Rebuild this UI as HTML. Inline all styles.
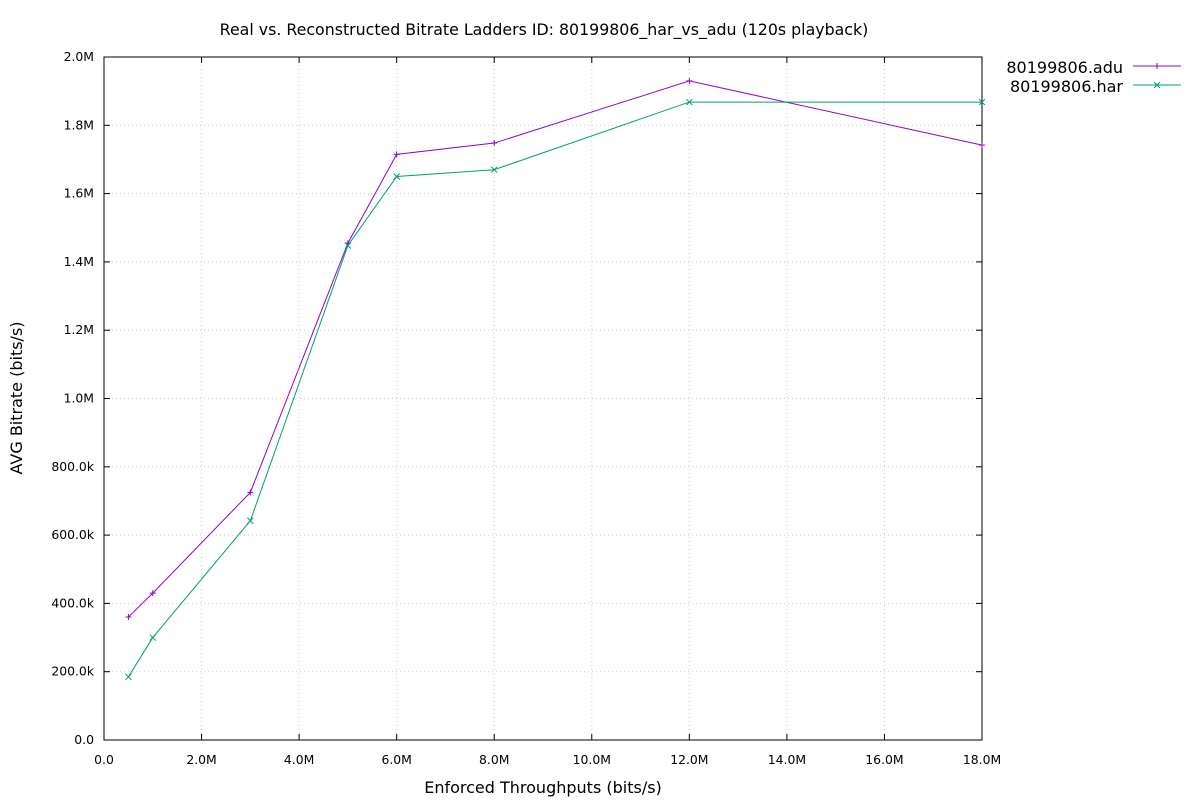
<!DOCTYPE html>
<html><head><meta charset="utf-8"><style>
body{margin:0;background:#fff;}
svg text{font-family:"DejaVu Sans","Liberation Sans",sans-serif;fill:#000;}
</style></head><body>
<svg id="chart" width="1200" height="800" xmlns="http://www.w3.org/2000/svg">
<text x="544" y="35" font-size="15.8" text-anchor="middle">Real vs. Reconstructed Bitrate Ladders ID: 80199806_har_vs_adu (120s playback)</text>
<text x="543" y="793" font-size="16" text-anchor="middle">Enforced Throughputs (bits/s)</text>
<text x="22" y="398" font-size="16" text-anchor="middle" transform="rotate(-90 22 398)">AVG Bitrate (bits/s)</text>
<g id="grid"></g><g id="axes"></g><g id="series"></g><g id="legend"></g>
</svg>
<script>
const xs = [0.5,1,3,5,6,8,12,18];
const adu = [360,430,725,1455,1715,1748,1930,1742];
const har = [185,300,642,1448,1650,1670,1868,1868];
const xTicks = [0,2,4,6,8,10,12,14,16,18];
const xTickLabels = ["0.0","2.0M","4.0M","6.0M","8.0M","10.0M","12.0M","14.0M","16.0M","18.0M"];
const yTicks = [0,200,400,600,800,1000,1200,1400,1600,1800,2000];
const yTickLabels = ["0.0","200.0k","400.0k","600.0k","800.0k","1.0M","1.2M","1.4M","1.6M","1.8M","2.0M"];
const L=104,R=982,T=57,B=740;
const X=v=>L+(v/18)*(R-L), Y=v=>B-(v/2000)*(B-T);
const NS="http://www.w3.org/2000/svg";
function mk(tag,attrs,parent){const e=document.createElementNS(NS,tag);for(const k in attrs)e.setAttribute(k,attrs[k]);parent.appendChild(e);return e;}
const g=document.getElementById('grid'),a=document.getElementById('axes'),s=document.getElementById('series'),lg=document.getElementById('legend');
xTicks.forEach((t,i)=>{const x=X(t);
 if(i>0&&i<xTicks.length-1){const l=mk('line',{x1:x,x2:x,y1:T,y2:B,stroke:'#ccc','stroke-dasharray':'1,3'},g);}
 mk('line',{x1:x,x2:x,y1:B,y2:B-6,stroke:'#000'},a);mk('line',{x1:x,x2:x,y1:T,y2:T+6,stroke:'#000'},a);
 const tx=mk('text',{x:x,y:B+24,'font-size':12.4,'text-anchor':'middle'},a);tx.textContent=xTickLabels[i];
 });
yTicks.forEach((t,i)=>{const y=Y(t);
 if(i>0&&i<yTicks.length-1){const l=mk('line',{x1:L,x2:R,y1:y,y2:y,stroke:'#ccc','stroke-dasharray':'1,3'},g);}
 mk('line',{x1:L,x2:L+6,y1:y,y2:y,stroke:'#000'},a);mk('line',{x1:R,x2:R-6,y1:y,y2:y,stroke:'#000'},a);
 const tx=mk('text',{x:L-10,y:y+4,'font-size':12.4,'text-anchor':'end'},a);tx.textContent=yTickLabels[i];
 });
const fr=mk('rect',{x:L,y:T,width:R-L,height:B-T,fill:'none',stroke:'#000'},a);

function plus(x,y,c,p){mk('path',{d:`M${x-3},${y}h6M${x},${y-3}v6`,stroke:c},p);}
function cross(x,y,c,p){mk('path',{d:`M${x-3},${y-3}l6,6M${x-3},${y+3}l6,-6`,stroke:c},p);}
function draw(vals,c,mark,name){
 const pl=mk('polyline',{points:xs.map((x,i)=>X(x)+','+Y(vals[i])).join(' '),fill:'none',stroke:c,'stroke-width':1},s);
 
 xs.forEach((x,i)=>mark(X(x),Y(vals[i]),c,s));}
draw(adu,'#9400d3',plus,'adu');draw(har,'#009e73',cross,'har');
[['80199806.adu','#9400d3',plus,72],['80199806.har','#009e73',cross,91]].forEach(([n,c,m,y])=>{
 const t=mk('text',{x:1123,y:y+1,'font-size':16,'text-anchor':'end'},lg);t.textContent=n;
 
 mk('line',{x1:1133,x2:1181,y1:y-6,y2:y-6,stroke:c},lg);m(1157,y-6,c,lg);});
</script>
</body></html>
